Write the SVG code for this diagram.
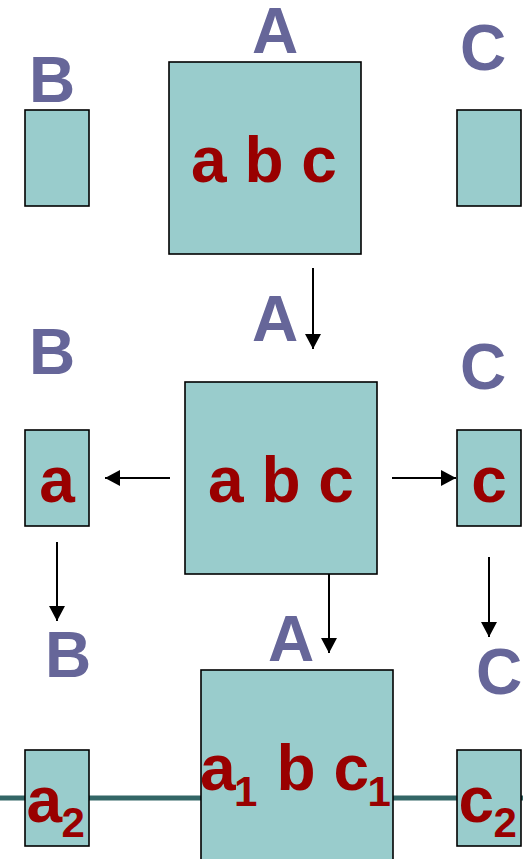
<svg xmlns="http://www.w3.org/2000/svg" width="523" height="859" viewBox="0 0 523 859">
  <style>
    .box { fill: #99CCCC; stroke: #000; stroke-width: 1.6; }
    .lbl { font-family: "Liberation Sans", Arial, sans-serif; font-weight: bold; font-size: 64px; fill: #666699; text-anchor: middle; }
    .val { font-family: "Liberation Sans", Arial, sans-serif; font-weight: bold; font-size: 64px; fill: #990000; }
    .sub { font-size: 42px; }
    .arrow { stroke: #000; stroke-width: 2; fill: none; marker-end: url(#head); }
  </style>
  <defs>
    <marker id="head" markerWidth="16" markerHeight="16" refX="15" refY="8" orient="auto" markerUnits="userSpaceOnUse">
      <path d="M0,0 L15,8 L0,16 Z" fill="#000"/>
    </marker>
  </defs>
  <rect width="523" height="859" fill="#fff"/>

  <!-- teal link line behind the bottom row -->
  <line x1="0" y1="798" x2="523" y2="798" stroke="#336666" stroke-width="5"/>

  <!-- top row -->
  <g id="top-B">
    <text class="lbl" x="52" y="102">B</text>
    <rect class="box" x="25" y="110" width="64" height="96"/>
  </g>
  <g id="top-A">
    <text class="lbl" x="275" y="53">A</text>
    <rect class="box" x="169" y="62" width="192" height="192"/>
    <text class="val" x="264" y="182" text-anchor="middle">a b c</text>
  </g>
  <g id="top-C">
    <text class="lbl" x="483" y="70">C</text>
    <rect class="box" x="457" y="110" width="64" height="96"/>
  </g>

  <!-- middle row -->
  <g id="mid-B">
    <text class="lbl" x="52" y="374">B</text>
    <rect class="box" x="25" y="430" width="64" height="96"/>
    <text class="val" x="57" y="502" text-anchor="middle">a</text>
  </g>
  <g id="mid-A">
    <text class="lbl" x="275" y="341">A</text>
    <rect class="box" x="185" y="382" width="192" height="192"/>
    <text class="val" x="281" y="502" text-anchor="middle">a b c</text>
  </g>
  <g id="mid-C">
    <text class="lbl" x="483" y="389">C</text>
    <rect class="box" x="457" y="430" width="64" height="96"/>
    <text class="val" x="489" y="502" text-anchor="middle">c</text>
  </g>

  <!-- bottom row -->
  <g id="bot-B">
    <text class="lbl" x="68" y="677">B</text>
    <rect class="box" x="25" y="750" width="64" height="96"/>
    <text class="val" x="26.5" y="822">a<tspan class="sub" x="61.5" y="837">2</tspan></text>
  </g>
  <g id="bot-A">
    <text class="lbl" x="291" y="661">A</text>
    <rect class="box" x="201" y="670" width="192" height="200"/>
    <text class="val" x="200" y="790">a<tspan class="sub" x="234" y="806">1</tspan><tspan x="276.5" y="790">b</tspan><tspan x="333.5" y="790">c</tspan><tspan class="sub" x="367.5" y="806">1</tspan></text>
  </g>
  <g id="bot-C">
    <text class="lbl" x="499" y="694">C</text>
    <rect class="box" x="457" y="750" width="64" height="96"/>
    <text class="val" x="458.5" y="822">c<tspan class="sub" x="493.5" y="837">2</tspan></text>
  </g>

  <!-- connectors -->
  <g id="connectors">
    <line class="arrow" x1="313" y1="268" x2="313" y2="349"/>
    <line class="arrow" x1="170" y1="478" x2="105" y2="478"/>
    <line class="arrow" x1="392" y1="478" x2="456" y2="478"/>
    <line class="arrow" x1="57" y1="542" x2="57" y2="621"/>
    <line class="arrow" x1="329" y1="574" x2="329" y2="653"/>
    <line class="arrow" x1="489" y1="557" x2="489" y2="637"/>
  </g>
</svg>
